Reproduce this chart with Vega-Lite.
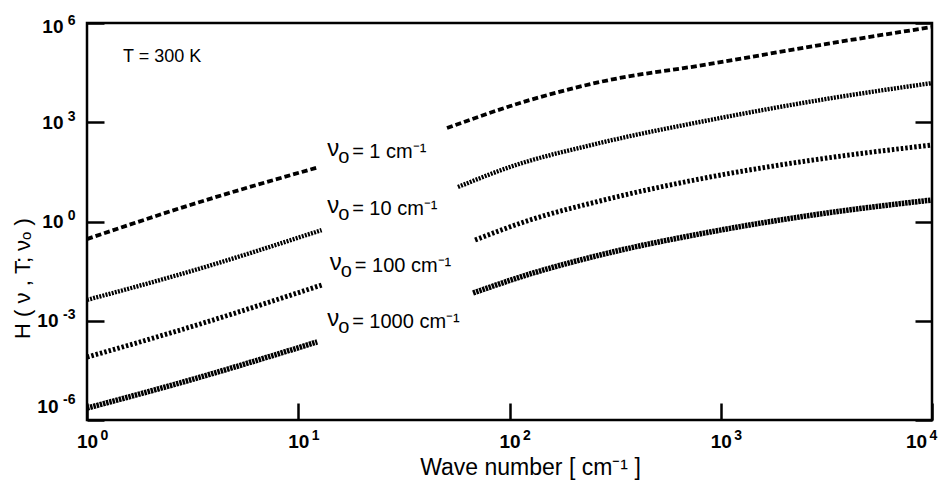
{
  "$schema": "https://vega.github.io/schema/vega-lite/v6.json",
  "width": 845,
  "height": 397,
  "autosize": {"type": "none"},
  "padding": {"left": 87, "top": 23, "right": 16, "bottom": 69},
  "background": "white",
  "config": {
    "view": {"stroke": "black", "strokeWidth": 2.5},
    "font": "Liberation Sans",
    "axis": {"grid": false, "domain": false, "labelColor": "black", "titleColor": "black", "tickColor": "black", "labelFlush": false, "labelOverlap": false, "labelBound": false}
  },
  "datasets": {
    "curves": [
      {"s": "1", "p": "1a", "x": 1, "y": 0.295},
      {"s": "1", "p": "1a", "x": 3.08, "y": 3.16},
      {"s": "1", "p": "1a", "x": 12.3, "y": 42.7},
      {"s": "1", "p": "1b", "x": 50.6, "y": 670},
      {"s": "1", "p": "1b", "x": 125, "y": 4700},
      {"s": "1", "p": "1b", "x": 268, "y": 16500},
      {"s": "1", "p": "1b", "x": 889, "y": 57700},
      {"s": "1", "p": "1b", "x": 2951, "y": 216000},
      {"s": "1", "p": "1b", "x": 10000, "y": 757000},
      {"s": "10", "p": "10a", "x": 1, "y": 0.00427},
      {"s": "10", "p": "10a", "x": 3.08, "y": 0.031},
      {"s": "10", "p": "10a", "x": 12.9, "y": 0.55},
      {"s": "10", "p": "10b", "x": 57, "y": 11.0},
      {"s": "10", "p": "10b", "x": 100.5, "y": 44.4},
      {"s": "10", "p": "10b", "x": 268, "y": 236},
      {"s": "10", "p": "10b", "x": 889, "y": 1170},
      {"s": "10", "p": "10b", "x": 2951, "y": 4700},
      {"s": "10", "p": "10b", "x": 10000, "y": 15300},
      {"s": "100", "p": "100a", "x": 1, "y": 0.0000794},
      {"s": "100", "p": "100a", "x": 3.08, "y": 0.000646},
      {"s": "100", "p": "100a", "x": 12.9, "y": 0.012},
      {"s": "100", "p": "100b", "x": 68.7, "y": 0.276},
      {"s": "100", "p": "100b", "x": 125, "y": 1.11},
      {"s": "100", "p": "100b", "x": 268, "y": 4.17},
      {"s": "100", "p": "100b", "x": 889, "y": 22.1},
      {"s": "100", "p": "100b", "x": 2951, "y": 77.5},
      {"s": "100", "p": "100b", "x": 10000, "y": 205},
      {"s": "1000", "p": "1000a", "x": 1, "y": 0.00000229},
      {"s": "1000", "p": "1000a", "x": 3.08, "y": 0.0000162},
      {"s": "1000", "p": "1000a", "x": 12.3, "y": 0.000229},
      {"s": "1000", "p": "1000b", "x": 67.2, "y": 0.0069},
      {"s": "1000", "p": "1000b", "x": 125, "y": 0.0259},
      {"s": "1000", "p": "1000b", "x": 268, "y": 0.097},
      {"s": "1000", "p": "1000b", "x": 889, "y": 0.481},
      {"s": "1000", "p": "1000b", "x": 2951, "y": 1.69},
      {"s": "1000", "p": "1000b", "x": 10000, "y": 4.47}
    ],
    "labels": [
      {"x": 13.7, "y": 83, "rest": "= 1 cm⁻¹"},
      {"x": 13.7, "y": 1.57, "rest": "= 10 cm⁻¹"},
      {"x": 14.1, "y": 0.0297, "rest": "= 100 cm⁻¹"},
      {"x": 13.7, "y": 0.000604, "rest": "= 1000 cm⁻¹"}
    ],
    "note": [
      {"x": 1.48, "y": 66200, "t": "T = 300 K"}
    ]
  },
  "resolve": {"axis": {"x": "independent", "y": "independent"}},
  "layer": [
    {
      "data": {"name": "curves"},
      "mark": {"type": "line", "interpolate": "monotone", "color": "black"},
      "encoding": {
        "x": {
          "field": "x", "type": "quantitative",
          "scale": {"type": "log", "domain": [1, 10000], "nice": false},
          "axis": {
            "orient": "bottom",
            "values": [1, 10, 100, 1000, 10000], "ticks": false, "tickSize": 0,
            "labelExpr": "'10'", "labelFontSize": 19, "labelFontWeight": "bold",
            "labelPadding": 12, "labelBaseline": "top", "labelAlign": "center",
            "labelOffset": {"expr": "datum.value == 10000 ? -16 : 0"},
            "title": "Wave number [ cm⁻¹ ]", "titleFontSize": 23, "titleFontWeight": "normal",
            "titleX": 443, "titleY": 47, "titleBaseline": "middle", "titleAlign": "center"
          }
        },
        "y": {
          "field": "y", "type": "quantitative",
          "scale": {"type": "log", "domain": [0.000001, 1000000], "nice": false},
          "axis": {
            "orient": "left",
            "values": [0.000001, 0.001, 1, 1000, 1000000], "ticks": false, "tickSize": 0,
            "labelExpr": "'10'", "labelFontSize": 19, "labelFontWeight": "bold",
            "labelPadding": {"expr": "datum.value < 0.5 ? 29 : 24"}, "labelAlign": "right", "labelBaseline": "middle",
            "labelOffset": {"expr": "datum.value > 100000 ? 3 : datum.value < 0.00001 ? -14 : 0"},
            "title": "H ( ν , T; νₒ )", "titleFontSize": 22, "titleFontWeight": "normal",
            "titleX": -65, "titleY": 255, "titleBaseline": "middle", "titleAlign": "center", "titleAngle": 270
          }
        },
        "detail": {"field": "p", "type": "nominal"},
        "strokeDash": {"field": "s", "type": "nominal", "scale": {"domain": ["1", "10", "100", "1000"], "range": [[6, 3], [2, 1.2], [2.5, 2], [2.5, 0.8]]}, "legend": null},
        "strokeWidth": {"field": "s", "type": "ordinal", "scale": {"domain": ["1", "10", "100", "1000"], "range": [3.8, 5.5, 4.5, 3]}, "legend": null}
      }
    },
    {
      "data": {"name": "labels"},
      "mark": {"type": "text", "align": "left", "baseline": "alphabetic", "fontSize": 20, "dx": 25, "color": "black"},
      "encoding": {
        "x": {
          "field": "x", "type": "quantitative",
          "scale": {"type": "log", "domain": [1, 10000], "nice": false},
          "axis": {
            "orient": "bottom",
            "values": [1, 10, 100, 1000, 10000], "ticks": false, "tickSize": 0,
            "labelExpr": "'' + round(log(datum.value) / LN10)", "labelFontSize": 14, "labelFontWeight": "bold",
            "labelPadding": 15, "labelBaseline": "middle", "labelAlign": "left", "title": null,
            "labelOffset": {"expr": "datum.value == 10000 ? -3 : 13"}
          }
        },
        "y": {
          "field": "y", "type": "quantitative",
          "scale": {"type": "log", "domain": [0.000001, 1000000], "nice": false},
          "axis": {
            "orient": "left",
            "values": [0.000001, 0.001, 1, 1000, 1000000], "ticks": false, "tickSize": 0,
            "labelExpr": "'' + round(log(datum.value) / LN10)", "labelFontSize": 14, "labelFontWeight": "bold",
            "labelPadding": 12, "labelAlign": "right", "labelBaseline": "middle", "title": null,
            "labelOffset": {"expr": "datum.value > 100000 ? -3 : datum.value < 0.00001 ? -21 : -6"}
          }
        },
        "text": {"field": "rest"}
      }
    },
    {
      "data": {"name": "labels"},
      "mark": {"type": "text", "align": "left", "baseline": "alphabetic", "fontSize": 24, "dy": -2, "color": "black"},
      "encoding": {
        "x": {
          "field": "x", "type": "quantitative",
          "scale": {"type": "log", "domain": [1, 10000], "nice": false},
          "axis": {"orient": "bottom", "values": [1, 10, 100, 1000, 10000], "labels": false, "ticks": true, "tickSize": -17, "tickWidth": 2.5, "title": null}
        },
        "y": {
          "field": "y", "type": "quantitative",
          "scale": {"type": "log", "domain": [0.000001, 1000000], "nice": false},
          "axis": {"orient": "left", "values": [0.000001, 0.001, 1, 1000, 1000000], "labels": false, "ticks": true, "tickSize": -17, "tickWidth": 2.5, "title": null}
        },
        "text": {"value": "ν"}
      }
    },
    {
      "data": {"name": "labels"},
      "mark": {"type": "text", "align": "left", "baseline": "alphabetic", "fontSize": 20, "dx": 11, "dy": 5, "color": "black"},
      "encoding": {
        "x": {
          "field": "x", "type": "quantitative",
          "scale": {"type": "log", "domain": [1, 10000], "nice": false},
          "axis": null
        },
        "y": {
          "field": "y", "type": "quantitative",
          "scale": {"type": "log", "domain": [0.000001, 1000000], "nice": false},
          "axis": {"orient": "right", "values": [0.000001, 0.001, 1, 1000, 1000000], "labels": false, "ticks": true, "tickSize": -17, "tickWidth": 2.5, "title": null}
        },
        "text": {"value": "o"}
      }
    },
    {
      "data": {"name": "note"},
      "mark": {"type": "text", "align": "left", "baseline": "alphabetic", "fontSize": 18, "color": "black"},
      "encoding": {
        "x": {"field": "x", "type": "quantitative", "scale": {"type": "log", "domain": [1, 10000], "nice": false}, "axis": null},
        "y": {"field": "y", "type": "quantitative", "scale": {"type": "log", "domain": [0.000001, 1000000], "nice": false}, "axis": null},
        "text": {"field": "t"}
      }
    }
  ]
}
